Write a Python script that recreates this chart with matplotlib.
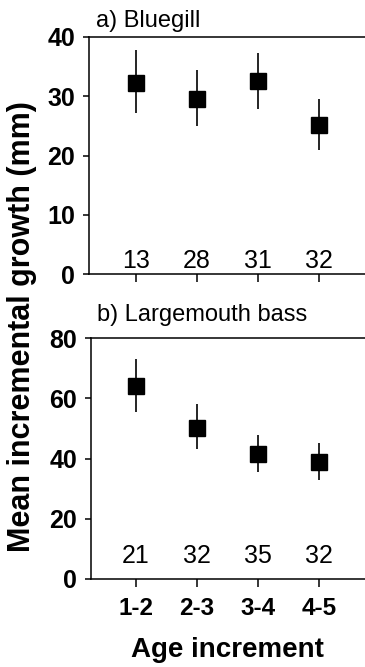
import matplotlib
matplotlib.use("Agg")
import matplotlib.pyplot as plt

plt.rcParams['font.family'] = ['Liberation Sans', 'DejaVu Sans']

# data
age_labels = ["1-2", "2-3", "3-4", "4-5"]
bluegill_mean = [32.3, 29.6, 32.5, 25.1]
bluegill_lo = [27.1, 24.9, 27.8, 20.9]
bluegill_hi = [37.8, 34.5, 37.3, 29.6]
bluegill_n = [13, 28, 31, 32]

bass_mean = [64.1, 50.1, 41.5, 38.8]
bass_lo = [55.4, 43.1, 35.5, 33.0]
bass_hi = [73.0, 58.0, 47.8, 45.0]
bass_n = [21, 32, 35, 32]

W, H = 365, 667
fig = plt.figure(figsize=(W / 100, H / 100), dpi=100)

x = [1, 2, 3, 4]


def panel(left_px, top_px, bot_px, mean, lo, hi, n, ymax, yticks, n_y, show_xlabels):
    ax = fig.add_axes([left_px / W, 1 - bot_px / H, 1 - left_px / W, (bot_px - top_px) / H])
    yerr = [[m - l for m, l in zip(mean, lo)], [h - m for m, h in zip(mean, hi)]]
    ax.errorbar(x, mean, yerr=yerr, fmt='s', color='black', ms=11, elinewidth=1.2,
                capsize=0, mec='black', mfc='black')
    # tick 1 sits at 136 px, ticks 61 px apart
    ax.set_xlim(1 - (136 - left_px) / 61, 1 + (W - 136) / 61)
    ax.set_ylim(0, ymax)
    ax.set_yticks(yticks)
    ax.set_xticks(x)
    if show_xlabels:
        ax.set_xticklabels(age_labels, fontsize=17.5, fontweight='bold')
    else:
        ax.set_xticklabels([])
    for lab in ax.get_yticklabels():
        lab.set_fontsize(18)
        lab.set_fontweight('bold')
    ax.tick_params(axis='y', direction='out', length=4, width=1.1, pad=6)
    ax.tick_params(axis='x', direction='out', length=6, width=1.1, pad=7)
    ax.spines['right'].set_visible(False)
    for s in ['left', 'bottom', 'top']:
        ax.spines[s].set_linewidth(1.1)
    for xi, ni in zip(x, n):
        ax.text(xi, n_y, str(ni), ha='center', va='baseline', fontsize=18)
    return ax


panel(89, 37, 274, bluegill_mean, bluegill_lo, bluegill_hi, bluegill_n, 40,
      [0, 10, 20, 30, 40], 1.0, False)
panel(91, 338, 579, bass_mean, bass_lo, bass_hi, bass_n, 80,
      [0, 20, 40, 60, 80], 5.3, True)

fig.text(96 / W, 1 - 27 / H, "a) Bluegill", fontsize=17, va='baseline', ha='left')
fig.text(97 / W, 1 - 321 / H, "b) Largemouth bass", fontsize=17, va='baseline', ha='left')
fig.text(22 / W, 1 - 327 / H, "Mean incremental growth (mm)", rotation=90,
         fontsize=22, fontweight='bold', ha='center', va='center')
fig.text(227 / W, 1 - 657 / H, "Age increment", fontsize=20, fontweight='bold',
         ha='center', va='baseline')

fig.savefig("out.png", dpi=100)
